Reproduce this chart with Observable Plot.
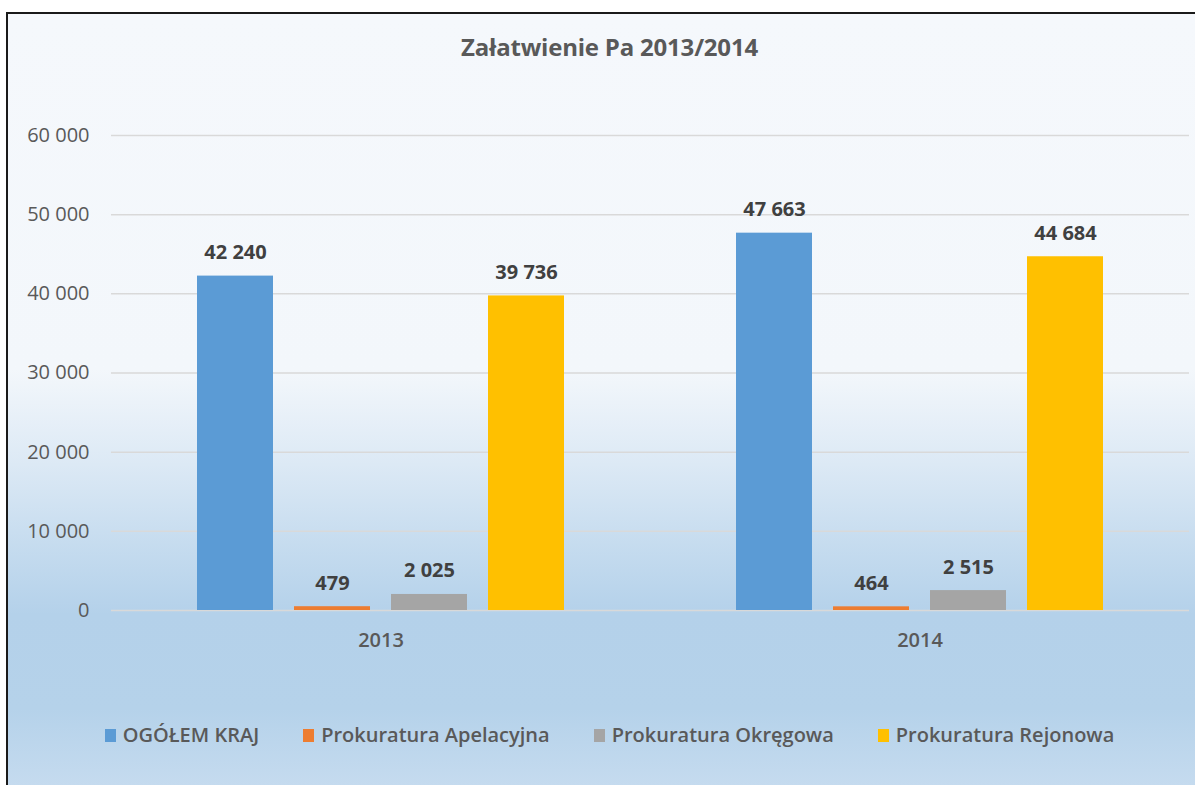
<!DOCTYPE html>
<html>
<head>
<meta charset="utf-8">
<script src="https://cdn.jsdelivr.net/npm/d3@7"></script>
<script src="https://cdn.jsdelivr.net/npm/@observablehq/plot@0.6"></script>
<style>
  html, body { margin: 0; padding: 0; background: #ffffff; overflow: hidden; width: 1195px; height: 785px; }
  #frame {
    position: absolute; left: 6px; top: 12px; width: 1203px; height: 790px;
    border-left: 2px solid #1a1a1a; border-top: 2px solid #1a1a1a;
    background: linear-gradient(to bottom,
      #f5f8fc 0%, #f3f7fb 45%, #dce9f5 57%, #c6dcef 67%, #b4d1ea 76%, #b5d2ea 88%, #c9ddf0 100%);
    font-family: "Open Sans", "Noto Sans", sans-serif;
  }
  #title {
    height: 86px; box-sizing: border-box; padding-top: 18px;
    text-align: center; font-size: 24px; line-height: 30px; font-weight: 700; color: #595959;
    letter-spacing: -0.2px;
  }
  #chart svg { display: block; overflow: visible; }
  #chart [aria-label^="fx-axis"] text { font-weight: 600; }
  #legend {
    display: flex; justify-content: center; gap: 44px; padding-top: 54px;
    font-size: 20px; line-height: 22px; color: #595959; font-weight: 600;
  }
  .item { display: flex; align-items: center; gap: 7px; white-space: nowrap; }
  .sw { width: 11px; height: 13px; display: inline-block; }
</style>
</head>
<body>
<div id="frame">
  <div id="title">Załatwienie Pa 2013/2014</div>
  <div id="chart"></div>
  <div id="legend"></div>
</div>
<script>
const years = ["2013", "2014"];
const series = ["OGÓŁEM KRAJ", "Prokuratura Apelacyjna", "Prokuratura Okręgowa", "Prokuratura Rejonowa"];
const values2013 = [42240, 479, 2025, 39736];
const values2014 = [47663, 464, 2515, 44684];
const colors = ["#5b9bd5", "#ed7d31", "#a5a5a5", "#ffc000"];
const yTicks = [0, 10000, 20000, 30000, 40000, 50000, 60000];

const valuesByYear = [values2013, values2014];
const data = years.flatMap((y, i) => series.map((s, j) => ({year: y, series: s, value: valuesByYear[i][j]})));
const fmt = v => d3.format(",")(v).replace(/,/g, " ");

const plot = Plot.plot({
  width: 1187,
  height: 570,
  marginLeft: 102,
  marginRight: 6,
  marginTop: 35,
  marginBottom: 60,
  style: {background: "transparent", fontFamily: "'Open Sans', 'Noto Sans', sans-serif", fontSize: "20px", color: "#595959", overflow: "visible"},
  fx: {domain: years, padding: 0, label: null, axis: "bottom", tickSize: 0, tickPadding: 22},
  x: {domain: series, axis: null, paddingInner: 0.215, paddingOuter: 0.864},
  y: {domain: [0, 60000], ticks: yTicks, tickFormat: fmt, label: null, tickSize: 0, tickPadding: 22},
  color: {domain: series, range: colors},
  marks: [
    Plot.ruleY(yTicks, {stroke: "#d9d9d9", strokeWidth: 1.5}),
    Plot.barY(data, {fx: "year", x: "series", y: "value", fill: "series"}),
    Plot.text(data, {fx: "year", x: "series", y: "value", text: d => fmt(d.value), dy: -17, lineAnchor: "bottom", fontWeight: "bold", fill: "#404040", fontSize: 20})
  ]
});
document.getElementById("chart").appendChild(plot);

const legend = document.getElementById("legend");
series.forEach((s, i) => {
  const it = document.createElement("div");
  it.className = "item";
  const sw = document.createElement("span");
  sw.className = "sw";
  sw.style.background = colors[i];
  const t = document.createElement("span");
  t.textContent = s;
  it.appendChild(sw); it.appendChild(t);
  legend.appendChild(it);
});
</script>
</body>
</html>
